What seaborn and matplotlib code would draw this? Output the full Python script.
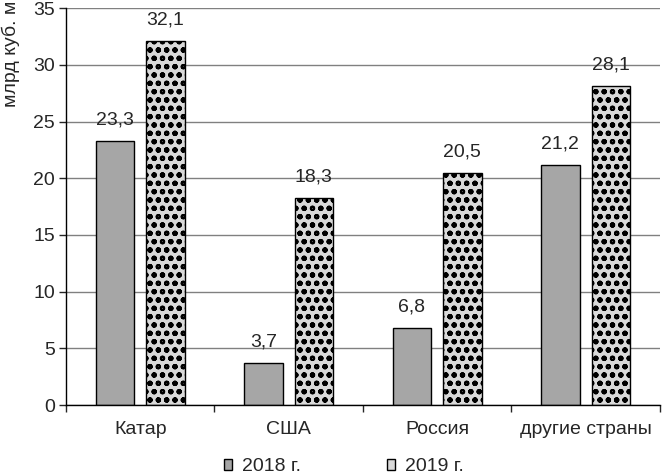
import matplotlib
matplotlib.use("Agg")
import matplotlib.pyplot as plt
import seaborn as sns
import pandas as pd

# Values
countries = ["Катар", "США", "Россия", "другие страны"]
years = ["2018 г.", "2019 г."]
values_2018 = [23.3, 3.7, 6.8, 21.2]
values_2019 = [32.1, 18.3, 20.5, 28.1]
y_ticks = [0, 5, 10, 15, 20, 25, 30, 35]

df = pd.DataFrame({
    "country": countries * 2,
    "year": [years[0]] * 4 + [years[1]] * 4,
    "value": values_2018 + values_2019,
})

sns.set_style("white")
plt.rcParams["font.family"] = ["Liberation Sans", "DejaVu Sans"]
plt.rcParams["hatch.color"] = "#404040"
plt.rcParams["hatch.linewidth"] = 1.5

FS = 14

fig = plt.figure(figsize=(6.62, 4.75), dpi=100)
ax = fig.add_axes([0.0997, 0.147, 0.897, 0.836])

sns.barplot(data=df, x="country", y="value", hue="year",
            palette=["#a6a6a6", "#d9d9d9"], width=0.68, gap=0.24,
            edgecolor="black", linewidth=1.0, ax=ax, legend=True)

# pattern for 2019 bars
for bar in ax.containers[1]:
    bar.set_hatch("oo")

ax.set_ylim(0, 35)
ax.set_yticks(y_ticks)
ax.set_xlim(-0.5, 3.5)
ax.yaxis.grid(True, color="#808080", linewidth=1.0)
ax.set_axisbelow(True)
for side in ["top", "right"]:
    ax.spines[side].set_visible(False)
for side in ["left", "bottom"]:
    ax.spines[side].set_color("black")
    ax.spines[side].set_linewidth(1.0)

ax.tick_params(axis="y", left=True, length=5, width=1, labelsize=FS, pad=3)
ax.tick_params(axis="x", bottom=False, labelsize=FS, pad=8)
ax.set_xticks([-0.5, 0.5, 1.5, 2.5, 3.5], minor=True)
ax.tick_params(axis="x", which="minor", bottom=True, length=5, width=1)
ax.set_xlabel("")
ax.set_ylabel("млрд куб. м", fontsize=FS, loc="top")
ax.yaxis.set_label_coords(-0.077, 1.02)

for cont in ax.containers:
    labels = [f"{v:.1f}".replace(".", ",") for v in cont.datavalues]
    ax.bar_label(cont, labels=labels, padding=9, fontsize=FS)

leg = ax.legend(loc="center", bbox_to_anchor=(0.468, -0.155), ncol=2,
                frameon=False, fontsize=FS, handlelength=0.45, handleheight=0.45,
                columnspacing=4.4, handletextpad=0.5, borderaxespad=0)

fig.savefig("out.png", dpi=100)
